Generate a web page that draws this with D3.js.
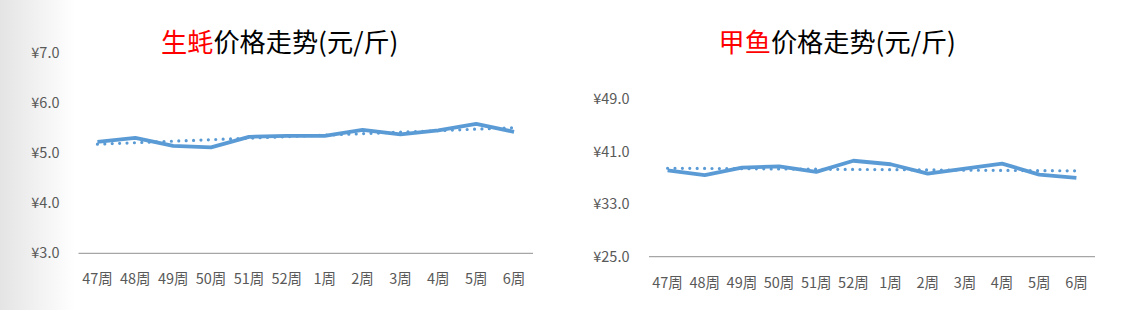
<!DOCTYPE html>
<html><head><meta charset="utf-8">
<script src="https://cdn.jsdelivr.net/npm/d3@7"></script>
<style>
html,body{margin:0;padding:0;background:#fff;}
svg{display:block;}
text{font-family:"Noto Sans CJK SC","Noto Sans",sans-serif;}
</style></head>
<body>
<svg id="c" width="1132" height="310"></svg>
<script>
const weeks = ["47周","48周","49周","50周","51周","52周","1周","2周","3周","4周","5周","6周"];
const oysterPrices = [5.23,5.31,5.15,5.12,5.33,5.35,5.35,5.47,5.38,5.46,5.59,5.43];
const turtlePrices = [38.15,37.4,38.55,38.76,37.9,39.6,39.07,37.65,38.4,39.17,37.5,37.0];
const oysterTicks = [3,4,5,6,7];
const turtleTicks = [25,33,41,49];

const svg = d3.select("#c");
const defs = svg.append("defs");
const g = defs.append("linearGradient").attr("id","edge").attr("x1","0").attr("x2","1");
g.append("stop").attr("offset","0").attr("stop-color","#e4e4e4");
g.append("stop").attr("offset","1").attr("stop-color","#ffffff");
svg.append("rect").attr("width",1132).attr("height",310).attr("fill","#fff");
svg.append("rect").attr("x",0).attr("y",0).attr("width",75).attr("height",310).attr("fill","url(#edge)");

function trend(vals){
  const n = vals.length, xs = d3.range(n);
  const mx = d3.mean(xs), my = d3.mean(vals);
  const sxy = d3.sum(xs, i => (i-mx)*(vals[i]-my));
  const sxx = d3.sum(xs, i => (i-mx)*(i-mx));
  const b = sxy/sxx, a = my - b*mx;
  return xs.map(i => a + b*i);
}

function drawChart(o){
  const x = d3.scaleBand().domain(weeks).range([o.x0,o.x1]);
  const y = d3.scaleLinear().domain([o.ticks[0], o.ticks[o.ticks.length-1]]).range([o.y0,o.y1]);
  const G = svg.append("g");
  G.selectAll(".yt").data(o.ticks).join("text")
    .attr("x", o.labelX).attr("y", d => y(d)).attr("dy","0.35em")
    .attr("text-anchor","end").attr("font-size",14.5).attr("fill","#595959")
    .text(d => "¥" + d.toFixed(1));
  G.append("line").attr("x1",o.x0).attr("x2",o.x1).attr("y1",y(o.ticks[0])).attr("y2",y(o.ticks[0]))
    .attr("stroke","#a6a6a6").attr("stroke-width",1.2);
  G.selectAll(".xt").data(weeks).join("text")
    .attr("x", d => x(d)+x.bandwidth()/2).attr("y", o.xLabelY).attr("dy","0.35em")
    .attr("text-anchor","middle").attr("font-size",14.5).attr("fill","#595959")
    .text(d => d);
  const cx = d => x(d)+x.bandwidth()/2;
  const line = d3.line().x((d,i)=>cx(weeks[i])).y(d=>y(d));
  const t = trend(o.values);
  G.append("path").attr("d", line(t)).attr("fill","none")
    .attr("stroke","#5b9bd5").attr("stroke-width",3.2).attr("stroke-linecap","round")
    .attr("stroke-dasharray","0 7.4");
  G.append("path").attr("d", line(o.values)).attr("fill","none")
    .attr("stroke","#5b9bd5").attr("stroke-width",3.8).attr("stroke-linejoin","round");
  const tt = G.append("text").attr("x",o.titleX).attr("y",o.titleY).attr("dy","0.35em")
    .attr("text-anchor","start").attr("font-size",26.2).attr("fill","#000");
  tt.append("tspan").attr("fill","#ff0000").text(o.titleRed);
  tt.append("tspan").text(o.titleRest);
}

drawChart({values:oysterPrices, ticks:oysterTicks, x0:78.5, x1:533, y0:253.3, y1:53.3, labelX:59.5,
  xLabelY:279, titleX:161, titleY:42.5, titleRed:"生蚝", titleRest:"价格走势(元/斤)"});
drawChart({values:turtlePrices, ticks:turtleTicks, x0:649, x1:1095, y0:256.7, y1:99, labelX:629.5,
  xLabelY:283, titleX:718.5, titleY:42.5, titleRed:"甲鱼", titleRest:"价格走势(元/斤)"});
</script>
</body></html>
